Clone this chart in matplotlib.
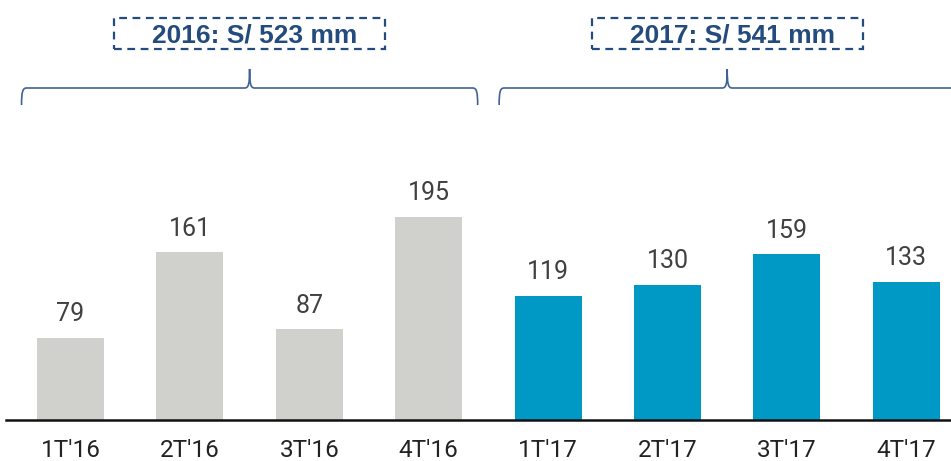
import matplotlib.pyplot as plt
from matplotlib.path import Path
from matplotlib.patches import PathPatch, Rectangle
from matplotlib.transforms import blended_transform_factory

quarters = ["1T'16", "2T'16", "3T'16", "4T'16", "1T'17", "2T'17", "3T'17", "4T'17"]
values = [79, 161, 87, 195, 119, 130, 159, 133]
years = ['2016: S/ 523 mm', '2017: S/ 541 mm']
gray = '#D0D0CC'
blue = '#0099C6'
colors = [gray] * 4 + [blue] * 4
navy = '#234B7D'

W, H = 951, 461
fig = plt.figure(figsize=(W / 100, H / 100), dpi=100)
# axes: baseline at y=420px, x centers at 70.5 + i*119.4 px
ax = fig.add_axes([0, (H - 420) / H, 1, 320 / H])
step = 119.4
ax.set_xlim(-70.5 / step, (W - 70.5) / step)
ax.set_ylim(0, 320 / 1.041)

x = list(range(len(values)))
ax.bar(x, values, width=0.56, color=colors, zorder=2)
for xi, v in zip(x, values):
    ax.annotate(str(v), (xi, v), xytext=(0, 12), textcoords='offset points',
                ha='center', va='baseline', fontsize=18, color='#404040',
                family='Roboto')

for s in ['top', 'right', 'left']:
    ax.spines[s].set_visible(False)
ax.spines['bottom'].set_linewidth(1.8)
ax.spines['bottom'].set_color('#111111')
ax.spines['bottom'].set_bounds(-65 / step, (W - 70.5) / step)
ax.set_yticks([])
ax.set_xticks(x)
ax.set_xticklabels(quarters, family='Roboto', fontsize=17.5, color='#222222')
ax.tick_params(axis='x', length=0, pad=14)

# braces and year totals
trans = blended_transform_factory(ax.transData, fig.transFigure)
d = 5 / step


def fy(px):
    return 1 - px / H


for g, label in enumerate(years):
    c = 1.5 + 4 * g
    left, right = c - 1.91, c + 1.91
    verts = [
        (left, fy(105)), (left, fy(92)), (left + 0.2 * d, fy(88)), (left + d, fy(88)),
        (c - d, fy(88)),
        (c - 0.2 * d, fy(88)), (c, fy(84)), (c, fy(69)),
        (c, fy(84)), (c + 0.2 * d, fy(88)), (c + d, fy(88)),
        (right - d, fy(88)),
        (right - 0.2 * d, fy(88)), (right, fy(92)), (right, fy(105)),
    ]
    codes = [Path.MOVETO, Path.CURVE4, Path.CURVE4, Path.CURVE4, Path.LINETO,
             Path.CURVE4, Path.CURVE4, Path.CURVE4,
             Path.CURVE4, Path.CURVE4, Path.CURVE4, Path.LINETO,
             Path.CURVE4, Path.CURVE4, Path.CURVE4]
    ax.add_patch(PathPatch(Path(verts, codes), transform=trans, fill=False,
                           edgecolor='#3E6296', lw=1.2, clip_on=False))
    bw = 2.27
    ax.add_patch(Rectangle((c - bw / 2, fy(49)), bw, 31 / H, transform=trans,
                           fill=False, edgecolor=navy, lw=1.6, linestyle=(0, (3.5, 2.5)),
                           clip_on=False))
    ax.text(c + 0.045, fy(35.5), label, transform=trans, ha='center', va='center',
            fontsize=19, fontweight='bold', color=navy, family='Liberation Sans')

plt.savefig('out.png', dpi=100)
